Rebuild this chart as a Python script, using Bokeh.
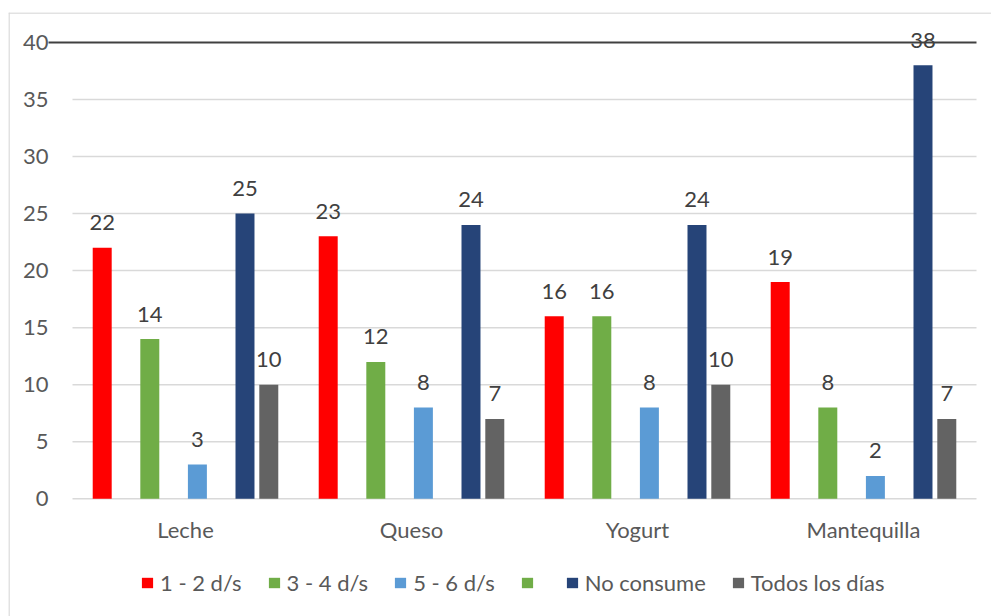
from bokeh.plotting import figure
from bokeh.models import Range1d, FixedTicker, Legend, LegendItem, ColumnDataSource, Span
from bokeh.core.properties import value
from bokeh.embed import file_html
from bokeh.resources import INLINE

# ---- data ----
categories = ["Leche", "Queso", "Yogurt", "Mantequilla"]
series_names = ["1 - 2 d/s", "3 - 4 d/s", "5 - 6 d/s", "", "No consume", "Todos los días"]
s_12 = [22, 23, 16, 19]
s_34 = [14, 12, 16, 8]
s_56 = [3, 8, 8, 2]
s_blank = [None, None, None, None]
s_no = [25, 24, 24, 38]
s_todos = [10, 7, 10, 7]
y_ticks = [0, 5, 10, 15, 20, 25, 30, 35, 40]

series_values = [s_12, s_34, s_56, s_blank, s_no, s_todos]
colors = ["#FF0000", "#70AD47", "#5B9BD5", "#70AD47", "#264478", "#636363"]
slots = [0, 2, 4, 5, 6, 7]          # bar slot within each category cluster
n_slots = 8
slot_pitch = 0.1053
bar_w = 0.084

FONT = "Lato"
TICK_COL = "#595959"
LABEL_COL = "#404040"
FS = "22px"

W, H = 991, 616
PX = 226.0      # px per category
PY = 11.41      # px per value unit
left_px, top_px = 8, 12
cat0_px = 185.0
zero_px = 498.3
x0 = -(cat0_px - left_px) / PX
x1 = x0 + (W - left_px) / PX
y1 = y_ticks[-1] + (zero_px - y_ticks[-1] * PY - top_px) / PY
y0 = -(H - zero_px) / PY
yaxis_x = x0 + (48 - left_px) / PX

p = figure(width=W, height=H, output_backend="svg", toolbar_location=None,
           x_range=Range1d(x0, x1), y_range=Range1d(y0, y1),
           min_border_left=left_px, min_border_right=0, min_border_top=top_px,
           min_border_bottom=0)
p.outline_line_color = None
p.background_fill_color = "white"
p.border_fill_color = "white"
p.xgrid.visible = False
p.ygrid.visible = False

# chart border (left and top edges only are visible)
p.add_layout(Span(location=x0 + 0.5 / PX, dimension="height", line_color="#D9D9D9", line_width=1.5))
p.add_layout(Span(location=y1 - 0.5 / PY, dimension="width", line_color="#D9D9D9", line_width=1.5))

# gridlines
ncat = len(categories)
g_ticks = y_ticks[:-1]
p.segment(x0=[-0.5] * len(g_ticks), y0=g_ticks, x1=[ncat - 0.5] * len(g_ticks), y1=g_ticks,
          line_color="#D9D9D9", line_width=1.5)
# dark top line at 40
p.segment(x0=[yaxis_x], y0=[y_ticks[-1]], x1=[ncat - 0.5], y1=[y_ticks[-1]],
          line_color="#404040", line_width=2)

renderers = []
for name, vals, col, k in zip(series_names, series_values, colors, slots):
    off = (k - (n_slots - 1) / 2) * slot_pitch
    xs = [i + off for i in range(len(vals))]
    src = ColumnDataSource(dict(x=xs, top=[float("nan") if v is None else v for v in vals]))
    r = p.vbar(x="x", top="top", bottom=0, width=bar_w, source=src,
               fill_color=col, line_color=None)
    renderers.append(r)
    pts = [(x, v) for x, v in zip(xs, vals) if v is not None]
    if pts:
        lsrc = ColumnDataSource(dict(x=[a for a, _ in pts], y=[b for _, b in pts],
                                     lab=[str(b) for _, b in pts]))
        p.text(x="x", y="y", text="lab", source=lsrc, text_align="center",
               text_baseline="alphabetic", y_offset=-25,
               text_font=value(FONT), text_font_size=FS, text_color=LABEL_COL)

# axes (drawn inside the frame at fixed locations)
p.yaxis.fixed_location = yaxis_x
p.yaxis.ticker = FixedTicker(ticks=y_ticks)
p.yaxis.axis_line_color = None
p.yaxis.major_tick_line_color = None
p.yaxis.minor_tick_line_color = None
p.yaxis.major_tick_out = 0
p.yaxis.major_tick_in = 0
p.yaxis.major_label_standoff = 0
p.yaxis.major_label_text_font = FONT
p.yaxis.major_label_text_font_size = FS
p.yaxis.major_label_text_color = TICK_COL

p.xaxis.fixed_location = 0
p.xaxis.ticker = FixedTicker(ticks=list(range(ncat)))
p.xaxis.major_label_overrides = {i: c for i, c in enumerate(categories)}
p.xaxis.axis_line_color = None
p.xaxis.major_tick_line_color = None
p.xaxis.minor_tick_line_color = None
p.xaxis.major_tick_out = 0
p.xaxis.major_tick_in = 0
p.xaxis.major_label_standoff = 17
p.xaxis.major_label_text_font = FONT
p.xaxis.major_label_text_font_size = FS
p.xaxis.major_label_text_color = TICK_COL

# legend
items = [LegendItem(label=value(n), renderers=[r]) for n, r in zip(series_names, renderers)]
legend = Legend(items=items, orientation="horizontal", location=(132, 20),
                glyph_width=14, glyph_height=13, label_standoff=6, spacing=25,
                label_width=0, padding=0, margin=0, border_line_color=None,
                background_fill_alpha=0,
                label_text_font=FONT, label_text_font_size=FS,
                label_text_color=TICK_COL)
p.add_layout(legend, "center")

open("out.html", "w").write(file_html(p, INLINE))
